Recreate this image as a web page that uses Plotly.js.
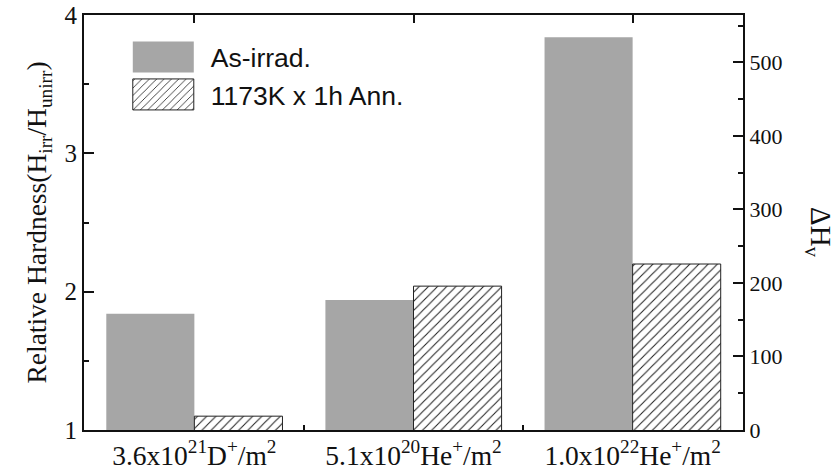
<!DOCTYPE html>
<html>
<head>
<meta charset="utf-8">
<script src="https://cdn.plot.ly/plotly-3.0.1.min.js"></script>
<style>html,body{margin:0;padding:0;background:#fff;}#chart{width:837px;height:474px;}</style>
</head>
<body>
<div id="chart"></div>
<script>
// Data
const categories = [
  "3.6x10<sup>21</sup>D<sup>+</sup>/m<sup>2</sup>",
  "5.1x10<sup>20</sup>He<sup>+</sup>/m<sup>2</sup>",
  "1.0x10<sup>22</sup>He<sup>+</sup>/m<sup>2</sup>"
];
const asIrrad = [1.84, 1.94, 3.84];
const annealed = [1.10, 2.04, 2.20];
const seriesNames = ["As-irrad.", "1173K x 1h Ann."];

const serif = "Liberation Serif, Times New Roman, serif";
const sans = "Liberation Sans, Arial, sans-serif";

const traces = [
  {
    type: "bar", x: categories, y: asIrrad, name: seriesNames[0],
    marker: {color: "#a6a6a6", line: {width: 0}},
    hoverinfo: "skip"
  },
  {
    type: "bar", x: categories, y: annealed, name: seriesNames[1],
    marker: {color: "white", line: {width: 1, color: "#222"},
             pattern: {shape: "/", fgcolor: "#222", bgcolor: "white", size: 6.5, solidity: 0.16}},
    hoverinfo: "skip"
  },
  {
    type: "scatter", mode: "markers", x: categories, y: [null, null, null],
    xaxis: "x2", yaxis: "y2", showlegend: false, hoverinfo: "skip"
  }
];

const layout = {
  width: 837, height: 474,
  margin: {l: 84, r: 94, t: 15, b: 44},
  paper_bgcolor: "white", plot_bgcolor: "white",
  barmode: "group", bargap: 0.196, bargroupgap: 0,
  showlegend: true,
  legend: {
    x: 0.071, y: 0.956, xanchor: "left", yanchor: "top",
    bgcolor: "rgba(0,0,0,0)", borderwidth: 0,
    font: {family: sans, size: 26.5, color: "#111"},
    itemwidth: 70, traceorder: "normal"
  },
  xaxis: {
    type: "category", range: [-0.5037, 2.5037],
    tickson: "boundaries", ticks: "inside", ticklen: 5, tickwidth: 2, tickcolor: "#111",
    showline: true, linecolor: "#111", linewidth: 2, showgrid: false, zeroline: false,
    tickfont: {family: serif, size: 27.5, color: "#111"}
  },
  xaxis2: {
    type: "category", overlaying: "x", side: "top", range: [-0.5037, 2.5037],
    categoryarray: categories, categoryorder: "array",
    ticks: "inside", ticklen: 8, tickwidth: 2, tickcolor: "#111",
    showticklabels: false, showline: true, linecolor: "#111", linewidth: 2,
    showgrid: false, zeroline: false
  },
  yaxis: {
    range: [1, 4], dtick: 1, tick0: 1,
    ticks: "inside", ticklen: 10, tickwidth: 2, tickcolor: "#111",
    minor: {dtick: 0.5, ticks: "inside", ticklen: 5, tickwidth: 2, tickcolor: "#111"},
    showline: true, linecolor: "#111", linewidth: 2, showgrid: false, zeroline: false,
    tickfont: {family: serif, size: 25, color: "#111"},
    title: {text: "Relative Hardness(H<sub>irr</sub>/H<sub>unirr</sub>)",
            font: {family: serif, size: 27.5, color: "#111"}, standoff: 10}
  },
  yaxis2: {
    overlaying: "y", side: "right", anchor: "x",
    range: [0, 564.3], dtick: 100, tick0: 0,
    ticks: "inside", ticklen: 10, tickwidth: 2, tickcolor: "#111",
    minor: {dtick: 50, ticks: "inside", ticklen: 5, tickwidth: 2, tickcolor: "#111"},
    showline: true, linecolor: "#111", linewidth: 2, showgrid: false, zeroline: false,
    tickfont: {family: serif, size: 22, color: "#111"}
  },
  annotations: [
    {text: "ΔH<sub>v</sub>", xref: "paper", yref: "paper", x: 1.115, y: 0.475,
     xanchor: "center", yanchor: "middle",
     showarrow: false, textangle: 90, font: {family: serif, size: 29, color: "#111"}}
  ]
};

Plotly.newPlot("chart", traces, layout, {staticPlot: true}).then(function () {
  // Enlarge legend swatches to match the reference
  document.querySelectorAll("#chart .legend .traces").forEach(function (g) {
    var p = g.querySelector("path.legendbar") || g.querySelector(".legendpoints path");
    var t = g.querySelector("text.legendtext");
    if (p && t) {
      var tx = parseFloat(t.getAttribute("x")) || 80;
      var cx = tx - 17 - 30.5;
      p.setAttribute("d", "M-30.5,-15.5h61v31h-61Z");
      p.setAttribute("transform", "translate(" + cx + ",0)");
    }
  });
});
</script>
</body>
</html>
